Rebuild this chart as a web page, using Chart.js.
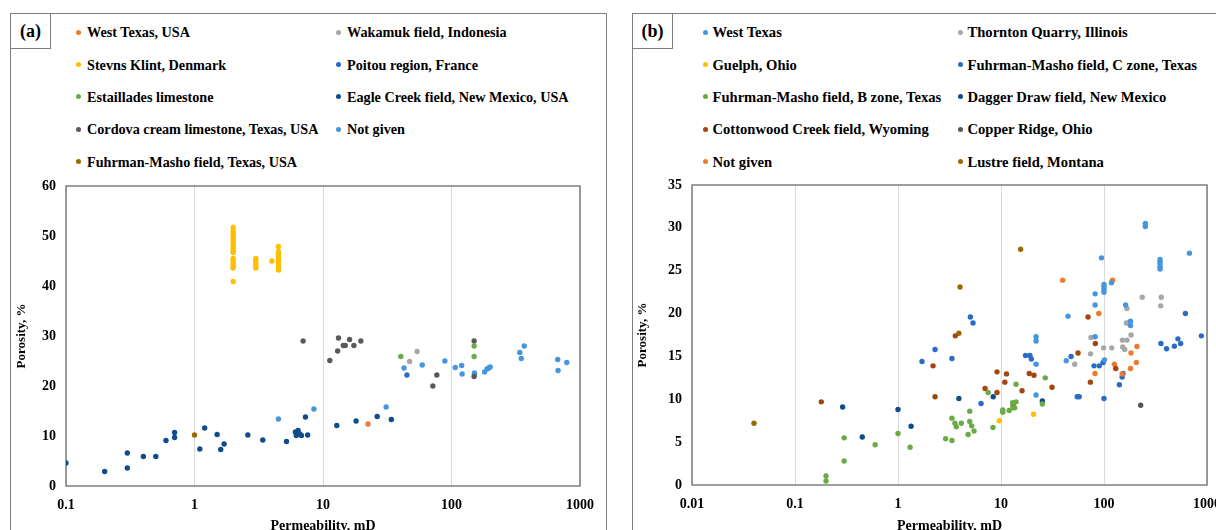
<!DOCTYPE html>
<html>
<head>
<meta charset="utf-8">
<script src="https://cdn.jsdelivr.net/npm/chart.js@4.4.1/dist/chart.umd.min.js"></script>
<style>
  html, body { margin: 0; padding: 0; background: #fff; width: 1216px; height: 530px; overflow: hidden; position: relative; }
  .panel { position: absolute; border: 1.5px solid #7f7f7f; box-sizing: border-box; }
  .tag { position: absolute; border: 1.5px solid #7f7f7f; box-sizing: border-box; background: #fff;
         font: bold 18px "Liberation Serif", serif; display: flex; align-items: center; justify-content: center; }
  .legend { position: absolute; font-family: "Liberation Serif", serif; font-weight: bold; color: #000; }
  .legend span { position: absolute; white-space: nowrap; line-height: 18px; }
  .legend i { position: absolute; width: 5px; height: 5px; border-radius: 50%; }
  canvas { position: absolute; }
</style>
</head>
<body>
<div class="panel" style="left:10px;top:13px;width:597px;height:560px"></div>
<div class="panel" style="left:632px;top:13px;width:640px;height:560px"></div>
<div class="tag" style="left:10px;top:13px;width:41px;height:36px">(a)</div>
<div class="tag" style="left:632px;top:13px;width:41px;height:36px">(b)</div>
<div class="legend" id="legendA" style="left:0;top:0;font-size:14.2px"></div>
<div class="legend" id="legendB" style="left:0;top:0;font-size:14.6px"></div>
<canvas id="chartA" width="597" height="540" style="left:8px;top:13px"></canvas>
<canvas id="chartB" width="620" height="540" style="left:629px;top:13px"></canvas>
<script>
// permeability (mD), porosity (%) pairs
const westTexasA = [[22.4, 12.4]];
const stevnsKlint = [
  [2, 51.7], [2, 51.0], [2, 50.5], [2, 50.0], [2, 49.5], [2, 49.0], [2, 48.5], [2, 48.0],
  [2, 47.5], [2, 47.0], [2, 46.7], [2, 45.5], [2, 45.0], [2, 44.5], [2, 44.0], [2, 43.6], [2, 40.9],
  [3, 45.5], [3, 45.0], [3, 44.5], [3, 44.0], [3, 43.6],
  [4, 45.0],
  [4.5, 47.9], [4.5, 46.9], [4.5, 46.4], [4.5, 45.9], [4.5, 45.4], [4.5, 44.9], [4.5, 44.4],
  [4.5, 43.9], [4.5, 43.5], [4.5, 43.2]
];
const estaillades = [[40.3, 25.9], [150, 28.0], [150, 25.9]];
const cordova = [
  [7.0, 29.0], [11.3, 25.1], [13.0, 27.0], [13.2, 29.6], [14.4, 28.1], [14.9, 28.1], [16.1, 29.3],
  [17.4, 28.1], [19.7, 29.0], [71.6, 20.0], [76.9, 22.2], [150, 29.0], [150, 21.9]
];
const fuhrmanMashoA = [[1.0, 10.2]];
const wakamuk = [[47.2, 24.9], [54, 26.9]];
const poitou = [[45, 22.2]];
const eagleCreek = [
  [0.1, 4.6], [0.2, 2.9], [0.3, 6.6], [0.3, 3.6], [0.4, 5.9], [0.5, 5.9], [0.6, 9.1], [0.7, 10.7],
  [0.7, 9.7], [1.1, 7.4], [1.2, 11.6], [1.5, 10.3], [1.6, 7.3], [1.7, 8.4], [2.6, 10.2], [3.4, 9.2],
  [5.2, 8.9], [6.1, 10.8], [6.4, 11.1], [6.2, 10.1], [6.8, 10.1], [6.6, 10.4], [7.3, 13.8], [7.6, 10.2],
  [12.8, 12.1], [18.1, 13.0], [26.4, 13.9], [34, 13.3]
];
const notGivenA = [
  [4.5, 13.4], [8.5, 15.4], [31, 15.8], [42.7, 23.6], [59.2, 24.2], [88.8, 25.0], [107, 23.7],
  [120, 24.1], [121, 22.4], [151, 22.6], [151, 22.3], [181, 22.8], [189, 23.4], [195, 23.6],
  [200, 23.8], [340, 26.7], [349, 25.5], [368, 28.0], [671, 25.3], [675, 23.1], [789, 24.7]
];

const westTexasB = [
  [21.9, 17.3], [21.9, 16.8], [21.9, 14.1], [21.9, 10.5], [43, 14.5], [44.7, 19.7], [82, 17.3],
  [82, 22.3], [82, 21.0], [94.5, 26.5], [100, 23.4], [100, 23.1], [100, 22.8], [100, 22.5],
  [101, 14.6], [118, 23.6], [162, 21.0], [181, 19.1], [181, 18.6], [252, 30.5], [252, 30.15],
  [350, 26.3], [350, 26.0], [350, 25.7], [350, 25.4], [350, 25.2], [675, 27.05]
];
const guelph = [[9.6, 7.5], [20.7, 8.25]];
const fuhrmanB = [
  [0.2, 1.05], [0.2, 0.47], [0.3, 5.5], [0.3, 2.8], [0.6, 4.7], [1.0, 6.0], [1.31, 4.4], [2.9, 5.4],
  [3.34, 5.2], [3.34, 7.8], [3.57, 7.2], [3.68, 6.8], [4.12, 7.2], [4.97, 8.6], [4.97, 7.4],
  [5.19, 6.9], [5.47, 6.3], [4.79, 5.9], [7.5, 10.8], [8.36, 6.7], [10.4, 8.75], [10.4, 8.5],
  [12, 8.7], [13, 9.0], [13.6, 9.0], [13, 9.6], [14, 9.7], [14, 11.75], [26.9, 12.5], [25.2, 9.45]
];
const cottonwood = [
  [0.18, 9.7], [2.19, 13.9], [2.29, 10.3], [3.6, 17.4], [7.0, 11.25], [9.15, 13.2], [9.15, 10.8],
  [10.9, 12.0], [11.3, 12.96], [13.1, 9.4], [16.0, 11.0], [18.8, 13.0], [20.9, 12.8], [31.3, 11.4],
  [56, 15.4], [70, 19.6], [73.7, 12.0], [82.4, 16.5], [130, 13.6]
];
const notGivenB = [
  [39.7, 23.9], [121, 23.9], [89, 20.0], [209, 16.15], [183, 15.4], [206, 14.3], [126, 14.1],
  [81.8, 13.0], [150, 12.96], [181, 13.6]
];
const thornton = [
  [235, 21.9], [360, 21.9], [355, 20.9], [167, 20.6], [165, 18.9], [170, 18.9], [183, 17.5],
  [74.8, 17.2], [151, 16.9], [167, 16.9], [99, 16.0], [119, 16.0], [152, 16.1], [159, 15.8],
  [74, 15.3], [52, 14.1]
];
const fuhrmanC = [
  [1.71, 14.4], [2.29, 15.8], [3.34, 14.75], [5.04, 19.6], [5.35, 18.9], [6.4, 9.5], [17.3, 15.1],
  [19.1, 15.1], [19.7, 14.7], [47.9, 15.0], [55, 10.3], [57.5, 10.3], [80, 13.9], [90, 13.9],
  [98, 14.3], [100, 10.1], [153, 13.0], [150, 12.6], [141, 11.7], [357, 16.5], [405, 15.9],
  [482, 16.2], [522, 17.05], [555, 16.5], [617, 20.0], [881, 17.4]
];
const daggerDraw = [[0.29, 9.1], [0.45, 5.6], [1.0, 8.8], [1.34, 6.85], [3.9, 10.1], [8.4, 10.3], [25.2, 9.8]];
const copperRidge = [[227, 9.3]];
const lustre = [[0.04, 7.2], [3.9, 17.7], [4.0, 23.1], [15.5, 27.5]];

const xTicksA = [0.1, 1, 10, 100, 1000];
const xTickLabelsA = ['0.1', '1', '10', '100', '1000'];
const xTicksB = [0.01, 0.1, 1, 10, 100, 1000];
const xTickLabelsB = ['0.01', '0.1', '1', '10', '100', '1000'];

const C = {
  orange: '#f07b2c', yellow: '#ffbf00', green: '#6aab45', darkGray: '#5a5a5a', lightGray: '#a7a7a7',
  brown: '#9a6a00', rust: '#a2450f', light: '#4596dc', mid: '#2a6bc6', navy: '#0e4c8a', copper: '#555555'
};

const seriesA = [
  ['West Texas, USA', C.orange, westTexasA],
  ['Stevns Klint, Denmark', C.yellow, stevnsKlint],
  ['Estaillades limestone', C.green, estaillades],
  ['Cordova cream limestone, Texas, USA', C.darkGray, cordova],
  ['Fuhrman-Masho field, Texas, USA', C.brown, fuhrmanMashoA],
  ['Wakamuk field, Indonesia', C.lightGray, wakamuk],
  ['Poitou region, France', C.mid, poitou],
  ['Eagle Creek field, New Mexico, USA', C.navy, eagleCreek],
  ['Not given', C.light, notGivenA]
];
const seriesB = [
  ['West Texas', C.light, westTexasB],
  ['Guelph, Ohio', C.yellow, guelph],
  ['Fuhrman-Masho field, B zone, Texas', C.green, fuhrmanB],
  ['Cottonwood Creek field, Wyoming', C.rust, cottonwood],
  ['Not given', C.orange, notGivenB],
  ['Thornton Quarry, Illinois', C.lightGray, thornton],
  ['Fuhrman-Masho field, C zone, Texas', C.mid, fuhrmanC],
  ['Dagger Draw field, New Mexico', C.navy, daggerDraw],
  ['Copper Ridge, Ohio', C.copper, copperRidge],
  ['Lustre field, Montana', C.brown, lustre]
];

Chart.defaults.font.family = '"Liberation Serif", "Times New Roman", serif';
Chart.defaults.font.weight = 'bold';
Chart.defaults.font.size = 13;
Chart.defaults.color = '#000';

// box around the plotting area
const frame = {
  id: 'frame',
  beforeDatasetsDraw(chart) {
    const { ctx, chartArea: a } = chart;
    ctx.save();
    ctx.strokeStyle = '#7f7f7f';
    ctx.lineWidth = 1.5;
    ctx.strokeRect(a.left, a.top, a.right - a.left, a.bottom - a.top);
    ctx.restore();
  }
};

function makeChart(id, series, p) {
  return new Chart(document.getElementById(id), {
    type: 'scatter',
    data: {
      datasets: series.map(([label, color, pts]) => ({
        label: label,
        data: pts.map(([x, y]) => ({ x: x, y: y })),
        backgroundColor: color,
        borderWidth: 0,
        pointRadius: 2.7
      }))
    },
    options: {
      responsive: false,
      animation: false,
      layout: { padding: { left: 0, top: p.top, right: p.right, bottom: 0 } },
      plugins: { legend: { display: false }, tooltip: { enabled: false } },
      scales: {
        x: {
          type: 'logarithmic',
          min: p.xTicks[0],
          max: p.xTicks[p.xTicks.length - 1],
          afterBuildTicks: s => { s.ticks = p.xTicks.map(v => ({ value: v })); },
          afterFit: s => { s.height = p.xh; },
          ticks: {
            autoSkip: false, maxRotation: 0, padding: 11,
            font: { size: 14 },
            callback: (v, i) => p.xLabels[i]
          },
          grid: { color: '#d9d9d9', lineWidth: 1, drawTicks: false },
          border: { display: false },
          title: { display: true, text: 'Permeability, mD', font: { size: 14 }, padding: { top: 0, bottom: 18 } }
        },
        y: {
          min: 0, max: p.yMax,
          afterFit: s => { s.width = p.yw; },
          ticks: { stepSize: p.yStep, padding: 10, font: { size: 14 } },
          grid: { display: false, drawTicks: false },
          border: { display: false },
          title: { display: true, text: 'Porosity, %', font: { size: 13 }, padding: { top: 6, bottom: 0 } }
        }
      }
    },
    plugins: [frame]
  });
}

// two-column legend: first five series on the left, the rest on the right
function buildLegend(elId, chart, dotX, gap) {
  const el = document.getElementById(elId);
  chart.data.datasets.forEach((ds, i) => {
    const col = i < 5 ? 0 : 1;
    const row = i < 5 ? i : i - 5;
    const cy = 32.3 + row * 32.3;
    const dot = document.createElement('i');
    dot.style.background = ds.backgroundColor;
    dot.style.left = (dotX[col] - 2.5) + 'px';
    dot.style.top = (cy - 2.5) + 'px';
    const txt = document.createElement('span');
    txt.textContent = ds.label;
    txt.style.left = (dotX[col] + gap) + 'px';
    txt.style.top = (cy - 9) + 'px';
    el.appendChild(dot);
    el.appendChild(txt);
  });
}

const chartA = makeChart('chartA', seriesA, {
  top: 173, right: 21, xh: 67, yw: 58, yMax: 60, yStep: 10, xTicks: xTicksA, xLabels: xTickLabelsA
});
const chartB = makeChart('chartB', seriesB, {
  top: 172, right: 42, xh: 68, yw: 63, yMax: 35, yStep: 5, xTicks: xTicksB, xLabels: xTickLabelsB
});
buildLegend('legendA', chartA, [78, 338], 9);
buildLegend('legendB', chartB, [705, 960], 7.5);
</script>
</body>
</html>
